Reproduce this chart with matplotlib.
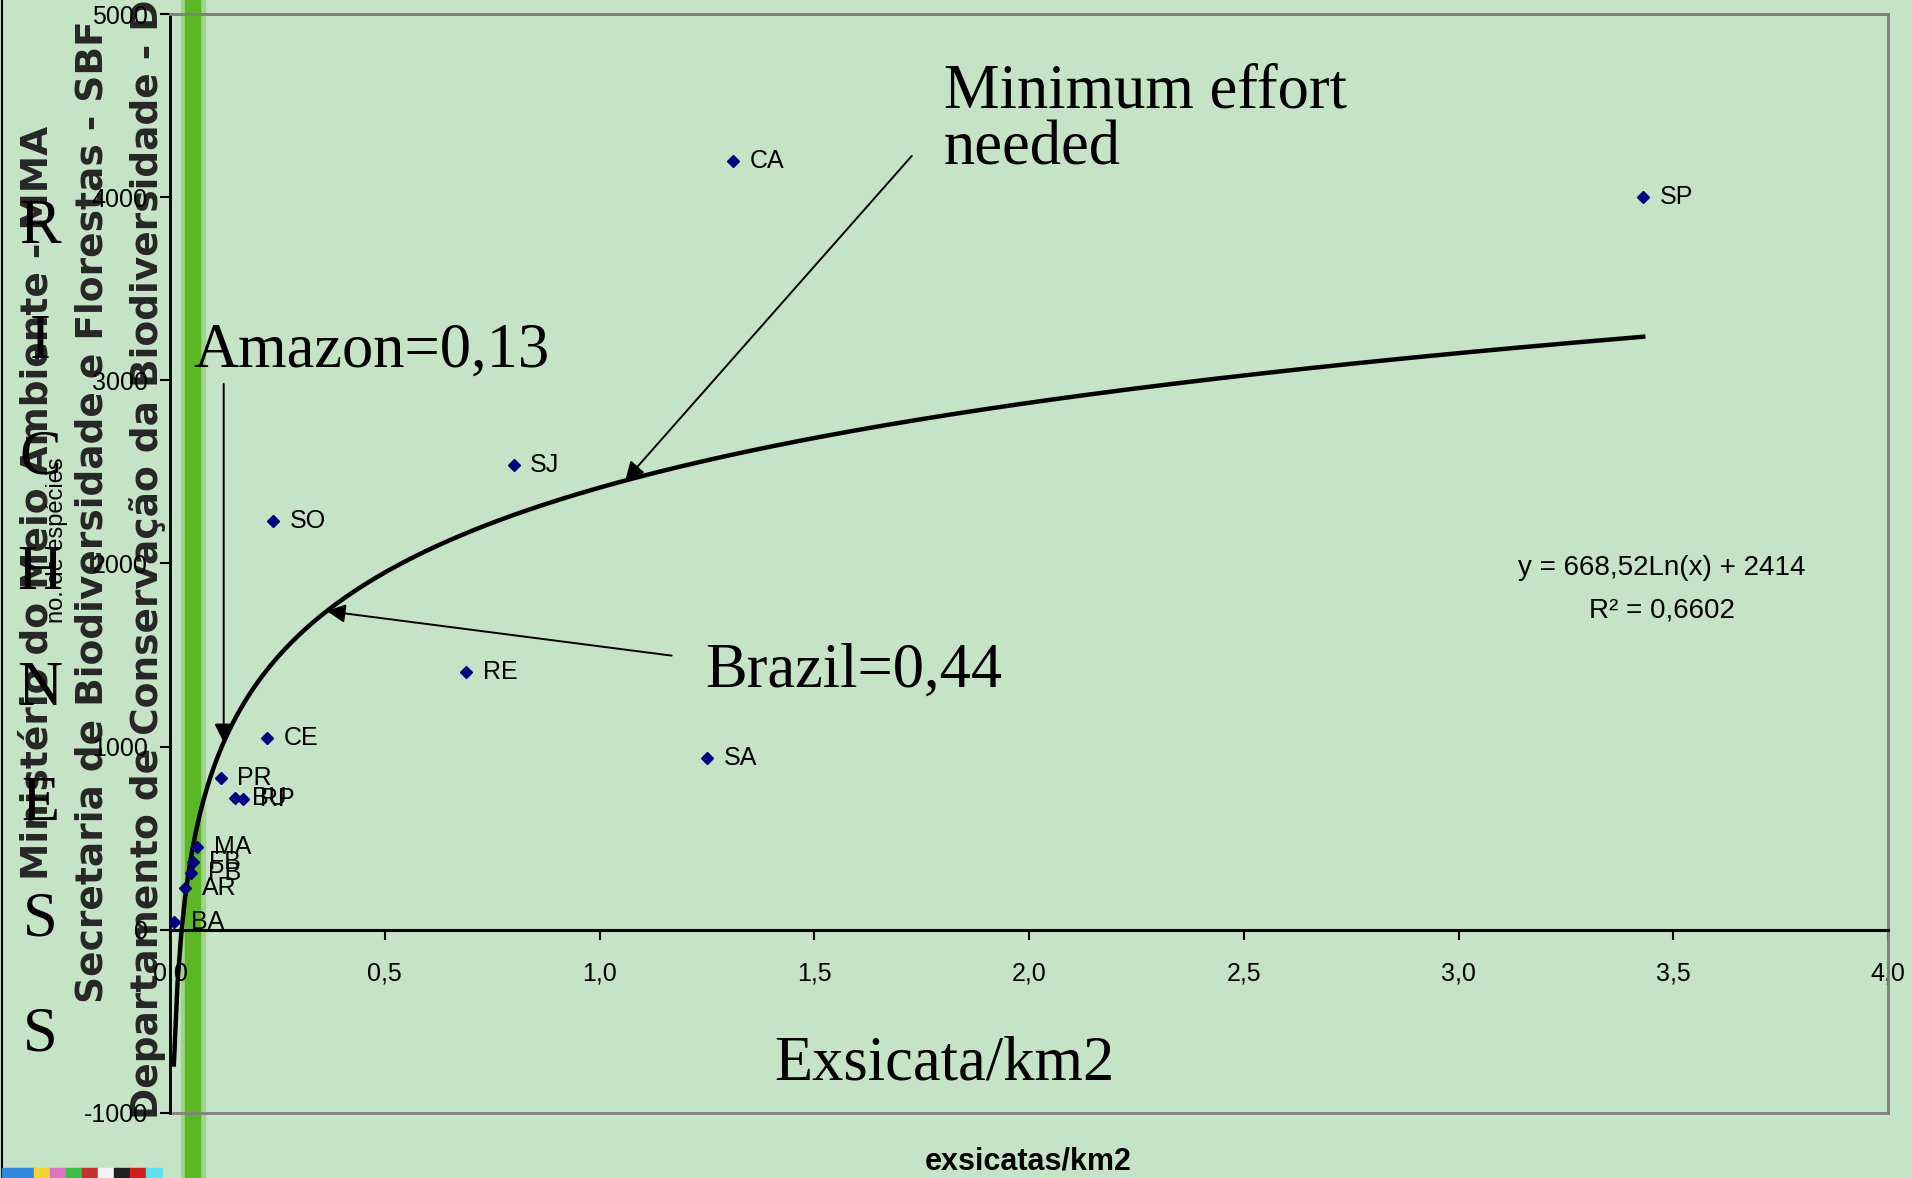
import numpy as np
import matplotlib
matplotlib.use("Agg")
from matplotlib import pyplot as plt
from matplotlib.patches import Rectangle
from matplotlib.lines import Line2D
from matplotlib.ticker import FixedLocator, FuncFormatter

# data
site = ['CA', 'SP', 'SJ', 'SO', 'RE', 'SA', 'CE', 'PR', 'BU', 'RP', 'MA', 'FB', 'PB', 'AR', 'BA']
exsicatas = [1.31, 3.43, 0.80, 0.24, 0.69, 1.25, 0.225, 0.118, 0.151, 0.171, 0.064, 0.053, 0.050, 0.035, 0.009]
especies = [4200, 4000, 2540, 2230, 1410, 940, 1050, 830, 720, 712, 450, 373, 309, 231, 45]

# log trendline shown on the chart
trend_a = 668.52
trend_b = 2414
trend_r2 = 0.6602

x_ticks = [0.0, 0.5, 1.0, 1.5, 2.0, 2.5, 3.0, 3.5, 4.0]
y_ticks = [-1000, 0, 1000, 2000, 3000, 4000, 5000]

headers = ["Ministério do Meio Ambiente - MMA",
           "Secretaria de Biodiversidade e Florestas - SBF",
           "Departamento de Conservação da Biodiversidade - DCBio"]
side_word = "RICHNESS"

W, H = 1911, 1178
bg = '#c5e3c5'
serif = ['Liberation Serif', 'DejaVu Serif']
sans = ['Liberation Sans', 'DejaVu Sans']


def fx(px):
    return px / W


def fy(py):
    return 1 - py / H


fig = plt.figure(figsize=(W / 100, H / 100), dpi=100)
fig.patch.set_facecolor(bg)

# slide decorations
fig.add_artist(Line2D([fx(1.5), fx(1.5)], [0, 1], color='black', lw=1.5, zorder=-2))
fig.add_artist(Rectangle((fx(181), 0), fx(24), 1, color='#9fd48a', zorder=-2))
fig.add_artist(Rectangle((fx(185), 0), fx(15), 1, color='#5ab825', zorder=-2))
strip = ['#2f86e0', '#2f86e0', '#f0d430', '#e070c0', '#38c048', '#c83030', '#f4f4f4', '#202020', '#d02020', '#60e0f0']
for i, c in enumerate(strip):
    fig.add_artist(Rectangle((fx(2 + i * 16), 0), fx(16), fy(1168), color=c, zorder=-2))

# rotated institution names, (x centre, bottom) in pixels
for (cx, bottom), txt in zip([(38, 880), (93, 1003), (148, 1119)], headers):
    fig.text(fx(cx), fy(bottom), txt, rotation=90, ha='center', va='bottom',
             fontsize=27, fontweight='bold', family='DejaVu Sans',
             color='#262626', zorder=-1)

for i, ch in enumerate(side_word):
    fig.text(fx(40), fy(228 + i * 115.4), ch, ha='center', va='center',
             fontsize=45, family=serif, color='black', zorder=-0.5)

fig.text(fx(57), fy(540), 'no. de espécies', rotation=90, ha='center', va='center',
         fontsize=17, family=sans, color='black')
fig.text(fx(1028), fy(1170), 'exsicatas/km2', ha='center', va='baseline',
         fontsize=22, fontweight='bold', family=['Liberation Sans Narrow', 'Liberation Sans'],
         color='black')

# chart
ax = fig.add_axes([fx(170), fy(1113), fx(1888 - 170), (1113 - 14) / H])
ax.patch.set_alpha(0)
ax.set_xlim(0, 4)
ax.set_ylim(-1000, 5000)

ax.spines['left'].set_color('black')
ax.spines['left'].set_linewidth(2)
ax.spines['bottom'].set_position(('data', 0))
ax.spines['bottom'].set_color('black')
ax.spines['bottom'].set_linewidth(2.2)
for s in ['top', 'right']:
    ax.spines[s].set_color('#808080')
    ax.spines[s].set_linewidth(2)
ax.add_patch(Rectangle((0, 0), 1, 1, transform=ax.transAxes, fill=False,
                       edgecolor='#808080', lw=2, clip_on=False, zorder=0.5))

ax.xaxis.set_major_locator(FixedLocator(x_ticks))
ax.xaxis.set_major_formatter(FuncFormatter(lambda v, p: f"{v:.1f}".replace('.', ',')))
ax.yaxis.set_major_locator(FixedLocator(y_ticks))
ax.yaxis.set_major_formatter(FuncFormatter(lambda v, p: f"{v:.0f}"))
ax.tick_params(axis='x', direction='out', length=7, width=1.5, pad=16, labelsize=18)
ax.tick_params(axis='y', direction='out', length=7, width=1.5, pad=9, labelsize=18)
for lab in ax.get_xticklabels() + ax.get_yticklabels():
    lab.set_family(sans)

# trendline
xt = np.linspace(min(exsicatas), max(exsicatas), 400)
ax.plot(xt, trend_a * np.log(xt) + trend_b, color='black', lw=3.2, zorder=3)

ax.plot(exsicatas, especies, linestyle='none', marker='D', ms=6.6,
        color='#000080', zorder=4)
for name, xv, yv in zip(site, exsicatas, especies):
    ax.annotate(name, (xv, yv), xytext=(12, 0), textcoords='offset points',
                ha='left', va='center', fontsize=18, family=sans, color='black')

eq = f"y = {trend_a:.2f}".replace('.', ',') + f"Ln(x) + {trend_b}"
ax.text(3.474, 1938, eq, ha='center', va='baseline', fontsize=20, family=sans)
ax.text(3.474, 1703, f"R² = {trend_r2:.4f}".replace('.', ','), ha='center',
        va='baseline', fontsize=20, family=sans)

# annotations
arrow = dict(arrowstyle='-|>', color='black', lw=1.4, mutation_scale=28, shrinkA=0, shrinkB=0)
amazon_x, brazil_x, effort_x = 0.125, 0.365, 1.06
ax.annotate('', (amazon_x, trend_a * np.log(amazon_x) + trend_b), xytext=(amazon_x, 2980),
            arrowprops=arrow)
ax.annotate('', (brazil_x, trend_a * np.log(brazil_x) + trend_b), xytext=(1.168, 1497),
            arrowprops=arrow)
ax.annotate('', (effort_x, trend_a * np.log(effort_x) + trend_b), xytext=(1.727, 4225),
            arrowprops=arrow)

big = dict(fontsize=45, family=serif, color='black', va='baseline')
ax.text(0.054, 3073, 'Amazon=0,13', ha='left', **big)
ax.text(1.246, 1326, 'Brazil=0,44', ha='left', **big)
ax.text(1.802, 4487, 'Minimum effort', ha='left', **big)
ax.text(1.802, 4176, 'needed', ha='left', **big)
ax.text(1.802, -819, 'Exsicata/km2', ha='center', **big)

plt.savefig('out.png', dpi=100, facecolor=bg)
